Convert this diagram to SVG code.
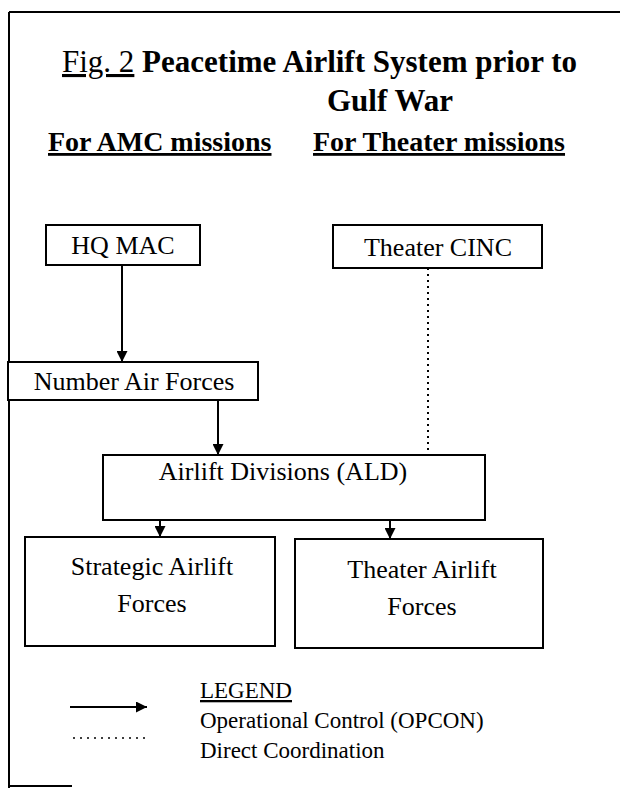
<svg xmlns="http://www.w3.org/2000/svg" width="620" height="788" viewBox="0 0 620 788">
<defs>
<marker id="ah" viewBox="0 0 10 10" refX="10" refY="5" markerWidth="11" markerHeight="11" markerUnits="userSpaceOnUse" orient="auto">
<path d="M0,0 L10,5 L0,10 Z" fill="#000"/>
</marker>
</defs>
<style>
text{font-family:"Liberation Serif","Times New Roman",serif;fill:#000}
.t{font-size:31px;font-weight:bold}
.h{font-size:28px;font-weight:bold;text-decoration:underline}
.n{font-size:26px;text-anchor:middle}
.l{font-size:23px}
.box{fill:#fff;stroke:#000;stroke-width:2}
.arr{stroke:#000;stroke-width:2;fill:none;marker-end:url(#ah)}
.dot{stroke:#000;stroke-width:2;stroke-dasharray:2 4;fill:none}
</style>
<rect width="620" height="788" fill="#fff"/>
<g id="frame" stroke="#000" stroke-width="2" fill="none">
<path d="M9,12 H620 M9,12 V788 M9,786 H72"/>
</g>
<g id="title">
<text class="t" x="62" y="72"><tspan font-weight="normal" text-decoration="underline">Fig. 2</tspan> Peacetime Airlift System prior to</text>
<text class="t" x="390" y="111" text-anchor="middle">Gulf War</text>
<text class="h" x="48" y="151">For AMC missions</text>
<text class="h" x="313" y="151">For Theater missions</text>
</g>
<g id="connectors">
<line class="arr" x1="122" y1="265" x2="122" y2="362"/>
<line class="arr" x1="218" y1="400" x2="218" y2="455"/>
<line class="arr" x1="160" y1="520" x2="160" y2="537"/>
<line class="arr" x1="390" y1="520" x2="390" y2="539"/>
<line class="dot" x1="428" y1="268" x2="428" y2="455"/>
</g>
<g id="hq-mac"><rect class="box" x="46" y="225" width="154" height="40"/><text class="n" x="123" y="254">HQ MAC</text></g>
<g id="theater-cinc"><rect class="box" x="333" y="225" width="209" height="43"/><text class="n" x="438" y="256">Theater CINC</text></g>
<g id="naf"><rect class="box" x="8" y="362" width="250" height="38"/><text class="n" x="134" y="390">Number Air Forces</text></g>
<g id="ald"><rect class="box" x="103" y="455" width="382" height="65"/><text class="n" x="283" y="480" font-size="25">Airlift Divisions (ALD)</text></g>
<g id="strategic"><rect class="box" x="25" y="537" width="250" height="109"/><text class="n" x="152" y="575">Strategic Airlift</text><text class="n" x="152" y="612">Forces</text></g>
<g id="theater-airlift"><rect class="box" x="295" y="539" width="248" height="109"/><text class="n" x="422" y="578">Theater Airlift</text><text class="n" x="422" y="615">Forces</text></g>
<g id="legend">
<text class="l" x="200" y="698" text-decoration="underline">LEGEND</text>
<line class="arr" x1="70" y1="707" x2="147" y2="707"/>
<text class="l" x="200" y="728">Operational Control (OPCON)</text>
<line x1="73" y1="738" x2="148" y2="738" stroke="#000" stroke-width="1.5" stroke-dasharray="2 5"/>
<text class="l" x="200" y="758">Direct Coordination</text>
</g>
</svg>
